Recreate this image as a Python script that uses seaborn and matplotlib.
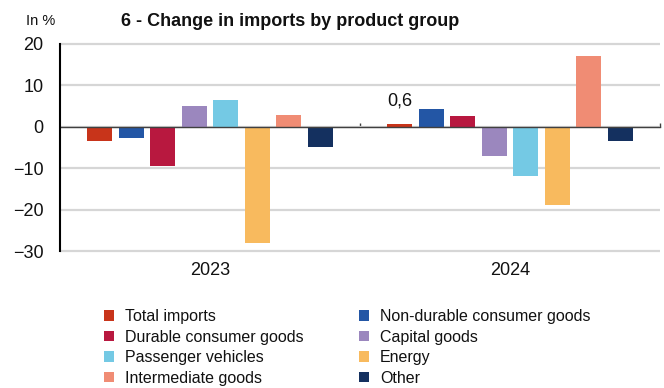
import numpy as np
import pandas as pd
import matplotlib
matplotlib.use("Agg")
import matplotlib.pyplot as plt
import seaborn as sns

# Year-on-year change in imports, by product group (in %)
years = ["2023", "2024"]
groups = [
    "Total imports",
    "Non-durable consumer goods",
    "Durable consumer goods",
    "Capital goods",
    "Passenger vehicles",
    "Energy",
    "Intermediate goods",
    "Other",
]
change_2023 = [-3.5, -2.7, -9.5, 5.1, 6.5, -28.0, 2.8, -4.8]
change_2024 = [0.6, 4.4, 2.6, -7.0, -12.0, -18.8, 17.2, -3.4]
colors = ["#C8341A", "#2356A5", "#B8183F", "#9B87BE",
          "#74C9E4", "#F8BA5E", "#F08C74", "#14305F"]
yticks = [-30, -20, -10, 0, 10, 20]

df = pd.DataFrame({
    "year": np.repeat(years, len(groups)),
    "group": groups * len(years),
    "change": change_2023 + change_2024,
})

sns.set_style("white")
plt.rcParams["font.family"] = ["Liberation Sans", "DejaVu Sans"]

W, H = 664, 388
fig = plt.figure(figsize=(W / 100, H / 100), dpi=100)
ax = fig.add_axes([60 / W, 1 - 251 / H, 600 / W, 207 / H])

sns.barplot(data=df, x="year", y="change", hue="group", hue_order=groups,
            palette=dict(zip(groups, colors)), saturation=1,
            width=0.84, gap=0.2, errorbar=None, linewidth=0, ax=ax,
            zorder=2)

handles, labels = ax.get_legend_handles_labels()
ax.get_legend().remove()

ax.set_ylim(yticks[0], yticks[-1])
ax.set_xlim(-0.5, len(years) - 0.5)
ax.set_yticks(yticks)
ax.set_xlabel("")
ax.set_ylabel("")

# horizontal grid behind the bars
ax.hlines(yticks, -0.5, len(years) - 0.5, colors="#D6D6D6",
          linewidths=1.6, zorder=1, clip_on=False)

ax.tick_params(axis="y", length=0, pad=12, labelsize=13, labelcolor="#111111")
ax.tick_params(axis="x", which="major", length=0, pad=8, labelsize=13,
               labelcolor="#111111", top=False, labeltop=False)
ax.spines["right"].set_visible(False)
ax.spines["bottom"].set_visible(False)
ax.spines["left"].set_color("black")
ax.spines["left"].set_linewidth(1.5)
ax.spines["left"].set_zorder(4)

# zero line (top spine moved to y=0) with small separators between years
ax.spines["top"].set_position(("data", 0))
ax.spines["top"].set_color("#404040")
ax.spines["top"].set_linewidth(1)
ax.spines["top"].set_zorder(3)
ax.set_xticks([0.5, 1.5], minor=True)
ax.tick_params(axis="x", which="minor", top=True, bottom=False,
               direction="out", length=3, width=1, color="#404040",
               labeltop=False, labelbottom=False)

# value label on total imports 2024
total_labels = ["" if y == "2023" else f"{v:.1f}".replace(".", ",")
                for y, v in zip(years, [change_2023[0], change_2024[0]])]
ax.bar_label(ax.containers[0], labels=total_labels, padding=11,
             fontsize=13, color="#111111")

# two-column legend, filled row by row
legend_kw = dict(loc="upper left", frameon=False, fontsize=11.5,
                 handlelength=0.62, handleheight=0.62, handletextpad=0.7,
                 labelspacing=0.35, borderpad=0, borderaxespad=0,
                 labelcolor="#111111")
left_col = [0, 2, 4, 6]
right_col = [1, 3, 5, 7]
fig.legend([handles[i] for i in left_col], [labels[i] for i in left_col],
           bbox_to_anchor=(104 / W, 1 - 309 / H), **legend_kw)
fig.legend([handles[i] for i in right_col], [labels[i] for i in right_col],
           bbox_to_anchor=(359 / W, 1 - 309 / H), **legend_kw)

fig.text(290 / W, 1 - 26 / H, "6 - Change in imports by product group",
         ha="center", va="baseline", fontsize=13, fontweight="bold",
         color="#111111")
fig.text(26 / W, 1 - 25 / H, "In %", ha="left", va="baseline",
         fontsize=10.5, color="#111111")

fig.savefig("out.png", dpi=100)
